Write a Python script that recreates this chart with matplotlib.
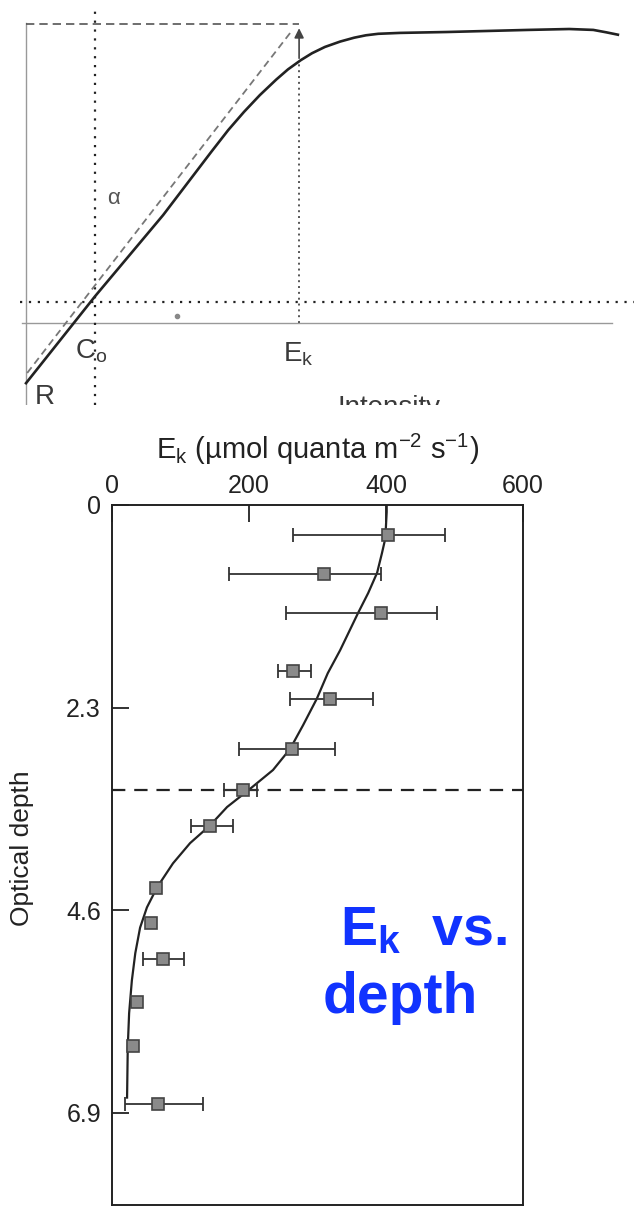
import numpy as np
import matplotlib
matplotlib.use("Agg")
import matplotlib.pyplot as plt

plt.rcParams['font.family'] = ['Liberation Sans', 'DejaVu Sans']
plt.rcParams['mathtext.fontset'] = 'custom'
plt.rcParams['mathtext.rm'] = 'Liberation Sans'
plt.rcParams['mathtext.it'] = 'Liberation Sans'
plt.rcParams['mathtext.bf'] = 'Liberation Sans:bold'

# --- P vs I schematic (arbitrary units) ---
pi_intensity = [0, 11.8, 23.4, 31.6, 34.5, 37.2, 39.9, 42.7, 44.7, 46.9, 48.8, 51.0, 53.6,
                56.0, 58.0, 60.1, 63.8, 71.8, 85.7, 92.7, 96.8, 99.0, 101.0]
pi_production = [-20.1, 9.0, 36.1, 57.2, 64.5, 70.6, 76.2, 81.4, 84.8, 87.9, 90.2, 92.3, 94.1,
                 95.4, 96.2, 96.7, 97.0, 97.3, 98.0, 98.3, 98.0, 97.2, 96.4]
alpha_line_i = [0.2, 45.2]
alpha_line_p = [-16.7, 97.3]
p_max = 100.0
i_comp = 11.8      # C_o
i_k = 46.6         # E_k
p_at_ik = 87.6
p_dotted = 7.0

# --- Ek vs optical depth ---
depth = [0.34, 0.78, 1.23, 1.88, 2.20, 2.77, 3.24, 3.64, 4.35, 4.75, 5.16, 5.65, 6.14, 6.80]
ek = [403, 310, 393, 264, 318, 263, 191, 143, 64, 57, 74, 36, 31, 67]
ek_lo = [264, 171, 254, 242, 260, 185, 163, 115, np.nan, np.nan, 45, np.nan, np.nan, 19]
ek_hi = [486, 393, 475, 290, 381, 326, 212, 177, np.nan, np.nan, 105, np.nan, np.nan, 133]
fit_depth = [0, 0.08, 0.38, 0.55, 0.77, 1.00, 1.23, 1.44, 1.65, 1.91, 2.20, 2.50, 2.77, 3.01,
             3.24, 3.43, 3.64, 3.84, 4.07, 4.34, 4.57, 4.80, 5.09, 5.40, 5.77, 6.16, 6.73]
fit_ek = [401, 401, 399, 394, 387, 374, 359, 346, 333, 315, 299, 279, 260, 235,
          199, 168, 143, 114, 89, 66, 51, 41, 34, 29, 25, 23, 22]
mixed_depth = 3.24
depth_ticks = [0, 2.3, 4.6, 6.9]
depth_labels = ['0', '2.3', '4.6', '6.9']
ek_ticks = [0, 200, 400, 600]

W, H = 634, 1208
fig = plt.figure(figsize=(W / 100, H / 100), dpi=100)

# top panel: schematic curve
ax1 = fig.add_axes([0, (H - 405) / H, 1, 405 / H])
ax1.set_xlim(-4.44, 103.75)
ax1.set_ylim(-27.4, 108.0)
ax1.axis('off')

grey = '#999999'
ax1.plot([0, 0], [p_max + 0.3, -27.4], color=grey, lw=1.0)
ax1.plot([-0.7, 100], [0, 0], color=grey, lw=1.0)
ax1.plot([0, i_k], [p_max, p_max], color='#555555', lw=1.2, dashes=(5, 3))
ax1.plot([i_comp, i_comp], [-27.4, 105.5], color='#222222', lw=1.6, linestyle=(0, (1, 3)))
ax1.plot([-1.0, 103.75], [p_dotted, p_dotted], color='#222222', lw=1.6, linestyle=(0, (1, 3)))
ax1.plot([i_k, i_k], [0, p_at_ik], color='#555555', lw=1.4, linestyle=(0, (1, 2)))
ax1.plot(alpha_line_i, alpha_line_p, color='#777777', lw=1.3, dashes=(4, 2.5))
ax1.plot(pi_intensity, pi_production, color='#222222', lw=1.9, solid_joinstyle='round')
ax1.annotate('', xy=(i_k, p_max - 0.5), xytext=(i_k, p_at_ik),
             arrowprops=dict(arrowstyle='-|>', color='#444444', lw=1.2, mutation_scale=14))
ax1.plot([25.8], [2.3], 'o', color='#888888', ms=3)

txt = '#3a3a3a'
ax1.text(15.0, 41.8, r'$\alpha$', fontsize=16, color='#555555', ha='center', va='center')
ax1.text(8.4, -11.7, r'C$_\mathrm{o}$', fontsize=20, color=txt, va='baseline')
ax1.text(43.9, -12.7, r'E$_\mathrm{k}$', fontsize=20, color=txt, va='baseline')
ax1.text(1.5, -27.2, 'R', fontsize=20, color=txt, va='baseline', clip_on=True)
ax1.text(53.1, -30.8, 'Intensity', fontsize=20, color=txt, va='baseline', clip_on=True)

# bottom panel: Ek profile
left, right, top, bottom = 112, 523, 505, 1205
ax2 = fig.add_axes([left / W, (H - bottom) / H, (right - left) / W, (bottom - top) / H])
ax2.set_xlim(0, 600)
ax2.set_ylim(7.95, 0)

ax2.axhline(mixed_depth, color='#222222', lw=1.6, dashes=(6, 4))
ax2.plot(fit_ek, fit_depth, color='#222222', lw=1.6)

lo = np.array(ek_lo)
hi = np.array(ek_hi)
x = np.array(ek, dtype=float)
y = np.array(depth)
has_err = ~np.isnan(lo)
ax2.errorbar(x[has_err], y[has_err], xerr=[x[has_err] - lo[has_err], hi[has_err] - x[has_err]],
             fmt='none', ecolor='#333333', elinewidth=1.3, capsize=5, capthick=1.3)
ax2.plot(x, y, 's', ms=8.5, mfc='#8a8a8a', mec='#444444', mew=1.2, linestyle='none')

ax2.xaxis.tick_top()
ax2.xaxis.set_label_position('top')
ax2.set_xticks(ek_ticks)
ax2.set_yticks(depth_ticks)
ax2.set_yticklabels(depth_labels)
ax2.tick_params(direction='in', length=12, width=1.3, labelsize=18, colors='#222222', pad=5)
ax2.tick_params(axis='y', pad=8)
for s in ax2.spines.values():
    s.set_linewidth(1.4)
    s.set_color('#222222')
ax2.set_xlabel(r'E$_\mathrm{k}$ (µmol quanta m$^{-2}$ s$^{-1}$)', fontsize=21, color='#222222', labelpad=11)
ax2.set_ylabel('Optical depth', fontsize=19, color='#222222')
ax2.yaxis.set_label_coords(-0.19, 0.51)

blue = '#1133ff'
fig.text(340 / W, 1 - 945 / H, r'E$_\mathbf{k}$  vs.', fontsize=40, fontweight='bold', color=blue,
         va='baseline', ha='left')
fig.text(323 / W, 1 - 1013 / H, 'depth', fontsize=41, fontweight='bold', color=blue,
         va='baseline', ha='left')

fig.savefig('out.png', dpi=100)
